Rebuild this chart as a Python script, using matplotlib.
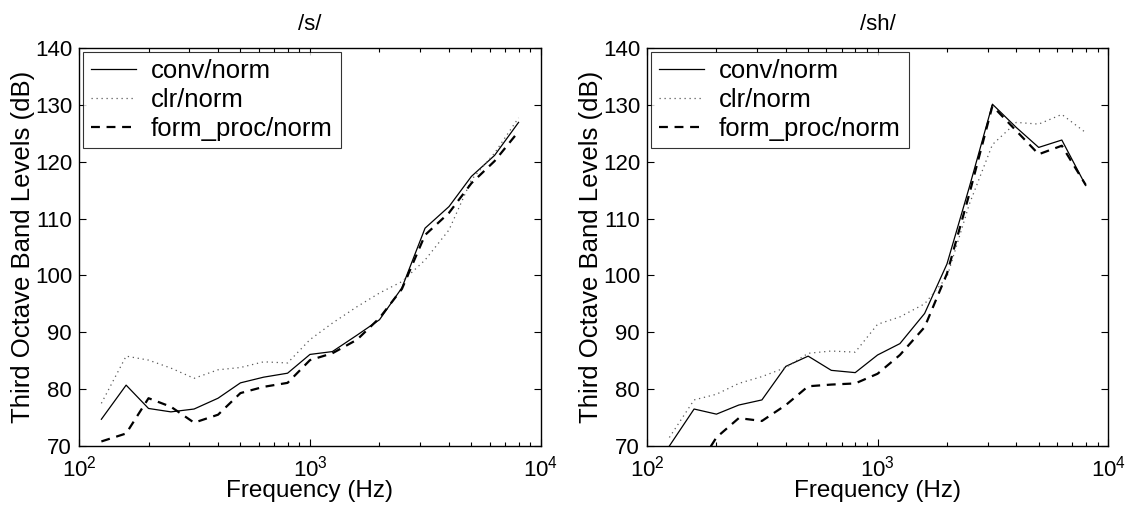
import numpy as np
import matplotlib
matplotlib.use("Agg")
import matplotlib.pyplot as plt
from matplotlib.ticker import LogLocator, NullFormatter

plt.rcParams['font.family'] = ['Liberation Sans', 'DejaVu Sans']
plt.rcParams['mathtext.fontset'] = 'custom'
plt.rcParams['mathtext.rm'] = 'Liberation Sans'

# third octave band centre frequencies
freqs = [125, 160, 200, 250, 315, 400, 500, 630, 800, 1000,
         1250, 1600, 2000, 2500, 3150, 4000, 5000, 6300, 8000]

# /s/
s_conv = [74.7, 80.7, 76.6, 76.0, 76.5, 78.4, 81.1, 82.1, 82.8, 86.1,
          86.6, 89.5, 92.2, 97.8, 108.3, 112.1, 117.4, 121.1, 126.9]
s_clr = [77.5, 85.8, 85.1, 83.7, 81.9, 83.4, 83.8, 84.8, 84.6, 88.7,
         91.6, 94.5, 96.9, 98.9, 102.7, 108.0, 116.8, 121.5, 127.7]
s_form = [70.8, 72.2, 78.4, 76.9, 74.1, 75.5, 79.3, 80.4, 81.1, 85.1,
          86.3, 88.7, 92.5, 97.6, 107.1, 111.0, 116.2, 120.1, 125.3]

# /sh/
sh_conv = [70.0, 76.5, 75.6, 77.2, 78.1, 84.0, 85.8, 83.3, 82.9, 86.0,
           88.0, 93.3, 102.0, 115.5, 130.1, 126.0, 122.5, 123.8, 115.8]
sh_clr = [71.5, 78.1, 79.1, 81.0, 82.2, 83.8, 86.3, 86.7, 86.5, 91.4,
          92.7, 95.0, 99.7, 112.5, 123.0, 126.9, 126.6, 128.3, 125.1]
sh_form = [62.0, 65.3, 71.5, 74.9, 74.4, 77.2, 80.5, 80.8, 81.0, 82.7,
           86.0, 90.9, 100.3, 114.3, 129.8, 125.4, 121.3, 122.8, 115.9]

titles = ['/s/', '/sh/']
labels = ['conv/norm', 'clr/norm', 'form_proc/norm']
yticks = [70, 80, 90, 100, 110, 120, 130, 140]

fig = plt.figure(figsize=(11.3, 5.15), dpi=100)
ax1 = fig.add_axes([0.0699, 0.134, 0.4088, 0.773])
ax2 = fig.add_axes([0.5726, 0.134, 0.408, 0.773])

for ax, title, conv, clr, form in [(ax1, titles[0], s_conv, s_clr, s_form),
                                   (ax2, titles[1], sh_conv, sh_clr, sh_form)]:
    ax.plot(freqs, conv, color='black', lw=0.9, label=labels[0])
    ax.plot(freqs, clr, color='0.35', lw=0.9, ls=(0, (1, 3)), label=labels[1])
    ax.plot(freqs, form, color='black', lw=1.6, ls=(0, (4, 3)), label=labels[2])
    ax.set_xscale('log')
    ax.set_xlim(100, 10000)
    ax.set_ylim(70, 140)
    ax.set_yticks(yticks)
    ax.xaxis.set_major_locator(LogLocator(base=10))
    ax.xaxis.set_minor_locator(LogLocator(base=10, subs=np.arange(2, 10)))
    ax.xaxis.set_minor_formatter(NullFormatter())
    ax.tick_params(which='both', direction='in', top=True, right=True,
                   labelsize=16, width=0.8)
    ax.tick_params(which='major', length=5)
    ax.tick_params(which='minor', length=3)
    ax.tick_params(axis='x', pad=7)
    ax.tick_params(axis='y', pad=5)
    for sp in ax.spines.values():
        sp.set_linewidth(1.0)
    ax.set_title(title, fontsize=16, pad=13)
    ax.set_xlabel('Frequency (Hz)', fontsize=17.5, labelpad=-1)
    ax.set_ylabel('Third Octave Band Levels (dB)', fontsize=18.5, labelpad=0)
    leg = ax.legend(loc='upper left', fontsize=18.5, frameon=True, fancybox=False,
                    edgecolor='black', handlelength=1.75, borderaxespad=0.15,
                    labelspacing=0.18, borderpad=0.3, handletextpad=0.6)
    leg.get_frame().set_linewidth(0.8)

fig.savefig('out.png', dpi=100)
